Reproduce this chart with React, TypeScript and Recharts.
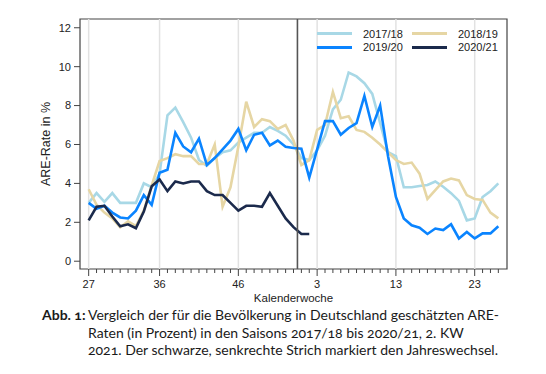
import React from 'react';
import { LineChart, Line, XAxis, YAxis, ReferenceLine, ReferenceArea } from 'recharts';

const weeks = [27, 28, 29, 30, 31, 32, 33, 34, 35, 36, 37, 38, 39, 40, 41, 42, 43, 44, 45, 46, 47, 48, 49, 50, 51, 52, 53,
  1, 2, 3, 4, 5, 6, 7, 8, 9, 10, 11, 12, 13, 14, 15, 16, 17, 18, 19, 20, 21, 22, 23, 24, 25, 26];
const majorWeeks = [27, 36, 46, 3, 13, 23];
const yTicks = [0, 2, 4, 6, 8, 10, 12];

const s1718 = [3.0, 3.5, 3.05, 3.5, 3.0, 3.0, 3.0, 4.0, 3.8, 4.5,
  7.5, 7.9, 7.15, 6.35, 5.2, 4.9, 5.3, 5.6, 5.7, 6.1,
  6.35, 6.6, 6.6, 6.9, 6.7, 6.45, 6.0, 5.3, 5.2, 5.7,
  6.45, 7.8, 8.3, 9.7, 9.5, 9.15, 8.6, 7.1, 5.6, 5.4,
  3.8, 3.8, 3.87, 3.92, 4.1, 3.83, 3.5, 3.1, 2.1, 2.2,
  3.3, 3.6, 4.0];
const s1819 = [3.7, 2.9, 2.5, 2.2, 1.75, 2.05, 1.8, 2.6, 3.9, 5.15,
  5.3, 5.5, 5.4, 5.4, 5.0, 5.0, 6.0, 2.8, 3.8, 5.9,
  8.2, 6.9, 7.3, 7.2, 6.8, 7.0, 6.2, 4.95, 5.2, 6.75,
  7.0, 8.7, 7.35, 7.45, 6.75, 6.65, 6.35, 6.0, 5.6, 5.2,
  5.0, 5.07, 4.5, 3.2, 3.65, 4.1, 4.25, 4.15, 3.4, 3.2,
  3.15, 2.5, 2.2];
const s1920 = [3.0, 2.7, 2.85, 2.5, 2.25, 2.2, 2.6, 3.4, 2.9, 4.55,
  4.7, 6.6, 5.9, 5.6, 6.3, 4.95, 5.3, 5.75, 6.2, 6.8,
  5.7, 6.5, 6.6, 5.95, 6.2, 5.88, 5.82, 5.78, 4.3, 5.75,
  7.2, 7.2, 6.5, 6.85, 7.1, 8.5, 6.9, 8.0, 5.4, 3.3,
  2.2, 1.85, 1.72, 1.4, 1.68, 1.6, 1.9, 1.17, 1.5, 1.17,
  1.43, 1.43, 1.8];
const s2021 = [2.1, 2.8, 2.85, 2.3, 1.8, 1.9, 1.7, 2.55, 3.85, 4.2,
  3.6, 4.1, 4.0, 4.1, 4.1, 3.6, 3.4, 3.4, 3.0, 2.6,
  2.85, 2.85, 2.8, 3.5, 2.85, 2.2, 1.75, 1.4, 1.4];

const seriesNames = ['2017/18', '2018/19', '2019/20', '2020/21'];
const colors = ['#a8d8e6', '#e6d6a4', '#0a84ff', '#1b2a4c'];

const data = weeks.map((w, i) => ({
  idx: i,
  week: w,
  a: s1718[i] ?? null,
  b: s1819[i] ?? null,
  c: s1920[i] ?? null,
  d: s2021[i] ?? null,
}));

const majorIdx = majorWeeks.map((w) => weeks.indexOf(w));
const yearBreak = weeks.indexOf(53) + 0.5;
const allIdx = weeks.map((_, i) => i);

const FONT = '"Liberation Sans", Arial, sans-serif';

const XTick = (props: any) => {
  const { x, y, payload } = props;
  const isMajor = majorIdx.includes(payload.value);
  return (
    <g>
      <line x1={x} x2={x} y1={y} y2={y + (isMajor ? 7 : 4)} stroke="#444" strokeWidth={1} />
      {isMajor && (
        <text x={x} y={y + 18.5} textAnchor="middle" fontSize={11} fill="#222" fontFamily={FONT}>
          {weeks[payload.value]}
        </text>
      )}
    </g>
  );
};

const keys = ['a', 'b', 'c', 'd'];

export default function App() {
  return (
    <div style={{ position: 'absolute', left: 0, top: 0, width: 546, height: 374, background: '#fff' }}>
      <LineChart width={546} height={310} data={data} margin={{ top: 19, right: 39, left: 38, bottom: 11 }}>
        <XAxis
          dataKey="idx"
          type="number"
          domain={[-1.1, 53.1]}
          allowDataOverflow
          ticks={allIdx}
          interval={0}
          tick={<XTick />}
          tickLine={false}
          axisLine={false}
          tickSize={0}
          tickMargin={0}
          height={30}
          label={{ value: 'Kalenderwoche', position: 'insideBottom', offset: -3, fontSize: 11.5, fill: '#222', fontFamily: FONT }}
        />
        <YAxis
          type="number"
          domain={[-0.4, 12.45]}
          allowDataOverflow
          ticks={yTicks}
          interval={0}
          width={42}
          axisLine={false}
          tickSize={6}
          tickMargin={3}
          tickLine={{ stroke: '#444' }}
          tick={{ fontSize: 11, fill: '#222', fontFamily: FONT }}
          label={{ value: 'ARE-Rate in %', angle: -90, position: 'insideLeft', offset: 0, dx: 8, fontSize: 12.5, fill: '#222', fontFamily: FONT, style: { textAnchor: 'middle' } }}
        />
        {majorIdx.map((m) => (
          <ReferenceLine key={m} x={m} stroke="#e2e2e2" strokeWidth={1.5} />
        ))}
        {keys.map((k, i) => (
          <Line
            key={k}
            dataKey={k}
            type="linear"
            stroke={colors[i]}
            strokeWidth={2.6}
            dot={false}
            isAnimationActive={false}
            connectNulls={false}
          />
        ))}
        <ReferenceLine x={yearBreak} stroke="#555" strokeWidth={1.6} />
        <ReferenceArea x1={-1.1} x2={53.1} y1={-0.4} y2={12.45} fill="none" stroke="#444" strokeWidth={1.2} ifOverflow="visible" />
      </LineChart>

      <div style={{ position: 'absolute', left: 317, top: 27, width: 190, fontFamily: FONT, fontSize: 11, color: '#222' }}>
        {[0, 1].map((row) => (
          <div key={row} style={{ display: 'flex', height: 13.5, alignItems: 'center' }}>
            {[0, 1].map((col) => {
              const si = row * 2 + col;
              return (
                <div key={col} style={{ display: 'flex', alignItems: 'center', width: 100 }}>
                  <div style={{ width: 35, height: 3, background: colors[si], marginRight: 11 }} />
                  <span>{seriesNames[si]}</span>
                </div>
              );
            })}
          </div>
        ))}
      </div>

      <div style={{ position: 'absolute', left: 42, top: 306, fontFamily: 'Lato, "Open Sans", sans-serif', fontSize: 14, lineHeight: '17.5px', color: '#1a1a1a', display: 'flex', fontVariantNumeric: 'oldstyle-nums', whiteSpace: 'nowrap' }}>
        <div style={{ width: 46, fontWeight: 700 }}>Abb. 1:</div>
        <div>
          Vergleich der für die Bevölkerung in Deutschland geschätzten ARE-<br />
          Raten (in Prozent) in den Saisons 2017/18 bis 2020/21, 2. KW<br />
          2021. Der schwarze, senkrechte Strich markiert den Jahreswechsel.
        </div>
      </div>
    </div>
  );
}
